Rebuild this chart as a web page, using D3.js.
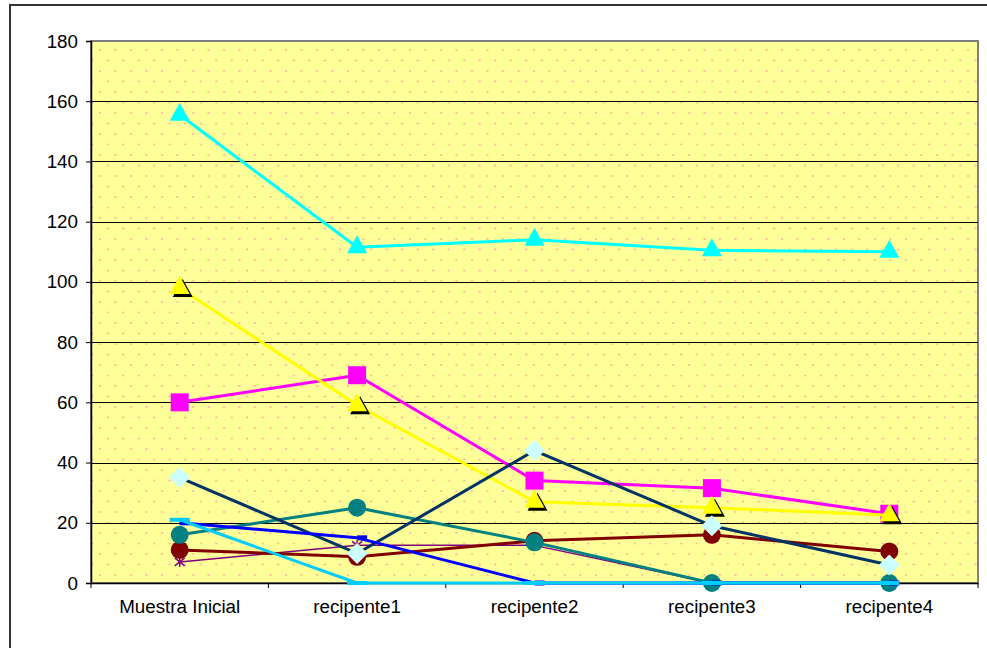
<!DOCTYPE html>
<html>
<head>
<meta charset="utf-8">
<script src="https://cdn.jsdelivr.net/npm/d3@7"></script>
<style>
  html, body { margin: 0; padding: 0; background: #fff; }
  svg { display: block; font-family: 'Liberation Sans', Arial, sans-serif; }
</style>
</head>
<body>
<div id="chart"></div>
<script>
const categories = ['Muestra Inicial', 'recipente1', 'recipente2', 'recipente3', 'recipente4']
const yTicks = [0, 20, 40, 60, 80, 100, 120, 140, 160, 180]

const magentaValues = [60, 69, 34, 31.5, 23]
const yellowValues = [98, 59, 27, 25, 22.5]
const cyanValues = [155.5, 111.5, 114, 110.5, 110]
const purpleValues = [7, 12.5, 12.5, 0, 0]
const darkRedValues = [11, 8.7, 14, 16, 10.5]
const tealValues = [16, 25, 13.5, 0, 0]
const navyValues = [35, 9.8, 44, 19, 6]
const blueValues = [20, 15, 0, 0, 0]
const skyValues = [21, 0, 0, 0, 0]

const FONT_SIZE = 18.8
const LINE_WIDTH = 3

var width = 987
var height = 648
var plot = {left: 91, right: 978, top: 41, bottom: 583}

var svg = d3.select('#chart').append('svg')
  .attr('width', width)
  .attr('height', height)

// outer chart border
svg.append('rect')
  .attr('x', 10).attr('y', 5)
  .attr('width', 1000).attr('height', 700)
  .attr('fill', '#fff')
  .attr('stroke', '#333')
  .attr('stroke-width', 2)

// dotted background pattern
var defs = svg.append('defs')
var pattern = defs.append('pattern')
  .attr('id', 'dots')
  .attr('patternUnits', 'userSpaceOnUse')
  .attr('x', plot.left).attr('y', plot.top)
  .attr('width', 15.5).attr('height', 21)
pattern.append('rect').attr('width', 15.5).attr('height', 21).attr('fill', '#FFFF99')
pattern.append('circle').attr('cx', 9).attr('cy', 9).attr('r', 1.1).attr('fill', '#FFB0A0')
pattern.append('circle').attr('cx', 1.25).attr('cy', 19.5).attr('r', 1.1).attr('fill', '#FFB0A0')

var xScale = d3.scaleBand()
  .domain(categories)
  .range([plot.left, plot.right])
  .padding(0)
var yScale = d3.scaleLinear()
  .domain([0, 180])
  .range([plot.bottom, plot.top])
var cx = d => xScale(d) + xScale.bandwidth() / 2

svg.append('rect')
  .attr('x', plot.left).attr('y', plot.top)
  .attr('width', plot.right - plot.left)
  .attr('height', plot.bottom - plot.top)
  .attr('fill', 'url(#dots)')
  .attr('stroke', '#808080')
  .attr('stroke-width', 2)

// gridlines
svg.append('g')
  .selectAll('line')
  .data(yTicks.filter(t => t > 0 && t < 180))
  .join('line')
  .attr('x1', plot.left).attr('x2', plot.right)
  .attr('y1', d => Math.round(yScale(d)) + 0.5)
  .attr('y2', d => Math.round(yScale(d)) + 0.5)
  .attr('stroke', '#000')
  .attr('stroke-width', 1)

// Y axis
var yAxis = svg.append('g')
  .attr('transform', 'translate(' + plot.left + ',0)')
  .call(d3.axisLeft(yScale).tickValues(yTicks).tickSize(5).tickPadding(8))
yAxis.select('.domain').attr('stroke', '#000').attr('stroke-width', 1.5)
yAxis.selectAll('text').attr('font-size', FONT_SIZE).attr('font-family', 'Liberation Sans, Arial').attr('fill', '#000')

// X axis
var xAxis = svg.append('g')
  .attr('transform', 'translate(0,' + plot.bottom + ')')
  .call(d3.axisBottom(xScale).tickSize(0).tickPadding(17))
xAxis.select('.domain').attr('stroke', '#000').attr('stroke-width', 1.5)
xAxis.selectAll('text').attr('font-size', FONT_SIZE).attr('font-family', 'Liberation Sans, Arial').attr('fill', '#000')
xAxis.selectAll('.sep')
  .data(categories.concat(['end']))
  .join('line')
  .attr('class', 'sep')
  .attr('x1', (d, i) => i < categories.length ? xScale(d) : plot.right)
  .attr('x2', (d, i) => i < categories.length ? xScale(d) : plot.right)
  .attr('y1', 0).attr('y2', 5)
  .attr('stroke', '#000')

// marker drawers
function triangle (g, x, y, fill, shadow) {
  var path = 'M0,-12L10,6L-10,6Z'
  if (shadow) {
    g.append('path').attr('d', path).attr('transform', 'translate(' + (x + 3) + ',' + (y + 3) + ')').attr('fill', '#000')
  }
  g.append('path').attr('d', path).attr('transform', 'translate(' + x + ',' + y + ')').attr('fill', fill)
}
function square (g, x, y, fill) {
  g.append('rect').attr('x', x - 9).attr('y', y - 9).attr('width', 18).attr('height', 18).attr('fill', fill)
}
function circle (g, x, y, fill) {
  g.append('circle').attr('cx', x).attr('cy', y).attr('r', 9).attr('fill', fill)
}
function diamond (g, x, y, fill) {
  g.append('path').attr('d', 'M0,-10.5L10.5,0L0,10.5L-10.5,0Z').attr('transform', 'translate(' + x + ',' + y + ')').attr('fill', fill)
}
function asterisk (g, x, y, fill) {
  var s = g.append('g').attr('transform', 'translate(' + x + ',' + y + ')')
    .attr('stroke', fill).attr('stroke-width', 1.5)
  s.append('line').attr('x1', 0).attr('y1', -5).attr('x2', 0).attr('y2', 5)
  s.append('line').attr('x1', -5).attr('y1', -4).attr('x2', 5).attr('y2', 4)
  s.append('line').attr('x1', -5).attr('y1', 4).attr('x2', 5).attr('y2', -4)
}
function dashWide (g, x, y, fill) {
  g.append('rect').attr('x', x - 10).attr('y', y - 2).attr('width', 20).attr('height', 4).attr('fill', fill)
}
function dashShort (g, x, y, fill) {
  g.append('rect').attr('x', x).attr('y', y - 2.5).attr('width', 10).attr('height', 5).attr('fill', fill)
}

var series = [
  {values: magentaValues, stroke: '#FF00FF', width: LINE_WIDTH, marker: square, fill: '#FF00FF'},
  {values: yellowValues, stroke: '#FFFF00', width: LINE_WIDTH, marker: (g, x, y, f) => triangle(g, x, y, f, true), fill: '#FFFF00'},
  {values: cyanValues, stroke: '#00FFFF', width: LINE_WIDTH, marker: (g, x, y, f) => triangle(g, x, y, f, false), fill: '#00FFFF'},
  {values: purpleValues, stroke: '#800080', width: 1.5, marker: asterisk, fill: '#800080'},
  {values: darkRedValues, stroke: '#800000', width: LINE_WIDTH, marker: circle, fill: '#800000'},
  {values: tealValues, stroke: '#008080', width: LINE_WIDTH, marker: circle, fill: '#008080'},
  {values: navyValues, stroke: '#003366', width: LINE_WIDTH, marker: diamond, fill: '#CCFFFF'},
  {values: blueValues, stroke: '#0000FF', width: LINE_WIDTH, marker: dashShort, fill: '#0000FF'},
  {values: skyValues, stroke: '#00CCFF', width: LINE_WIDTH, marker: dashWide, fill: '#00CCFF'}
]

var line = d3.line()
  .x((d, i) => cx(categories[i]))
  .y(d => yScale(d))

var seriesGroup = svg.append('g').attr('id', 'series')
series.forEach(s => {
  var g = seriesGroup.append('g')
  g.append('path')
    .attr('d', line(s.values))
    .attr('fill', 'none')
    .attr('stroke', s.stroke)
    .attr('stroke-width', s.width)
    .attr('stroke-linejoin', 'round')
  s.values.forEach((v, i) => s.marker(g, cx(categories[i]), yScale(v), s.fill))
})
</script>
</body>
</html>
